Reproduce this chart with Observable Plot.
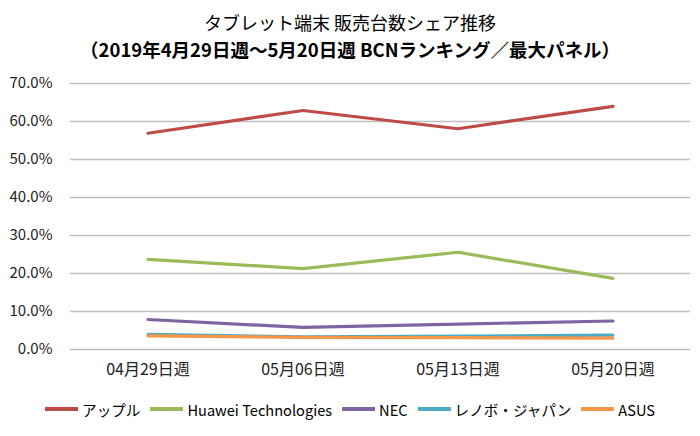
<!DOCTYPE html>
<html><head><meta charset="utf-8">
<script src="https://cdn.jsdelivr.net/npm/d3@7"></script>
<script src="https://cdn.jsdelivr.net/npm/@observablehq/plot@0.6"></script>
<style>
body{margin:0;background:#fff;font-family:"Noto Sans CJK JP","Noto Sans",sans-serif;}
#wrap{width:700px;}
.t1{height:30px;line-height:32px;text-align:center;font-size:18px;padding-top:6px;}
.t2{height:32px;line-height:26px;text-align:center;font-size:18.5px;font-weight:bold;}
#legend{display:flex;justify-content:center;align-items:center;gap:10px;font-size:14.6px;height:48px;}
.it{display:flex;align-items:center;gap:4px;}
.sw{width:33px;height:3.5px;display:inline-block;}
</style></head>
<body><div id="wrap">
<div class="t1">タブレット端末 販売台数シェア推移</div>
<div class="t2">（2019年4月29日週～5月20日週 BCNランキング／最大パネル）</div>
<div id="chart"></div>
<div id="legend"></div>
</div>
<script>
const weeks = ["04月29日週","05月06日週","05月13日週","05月20日週"];
const seriesNames = ["アップル","Huawei Technologies","NEC","レノボ・ジャパン","ASUS"];
const apple = [0.569, 0.629, 0.581, 0.640];
const huawei = [0.237, 0.213, 0.256, 0.187];
const nec = [0.079, 0.058, 0.067, 0.075];
const lenovo = [0.040, 0.033, 0.035, 0.038];
const asus = [0.036, 0.032, 0.031, 0.030];
const colors = ["#BE4B48","#9BBB59","#8064A2","#4BACC6","#F79646"];
const yTicks = [0,0.1,0.2,0.3,0.4,0.5,0.6,0.7];

const all = [apple, huawei, nec, lenovo, asus];
const rows = [];
all.forEach((vals, i) => vals.forEach((v, j) => rows.push({series: seriesNames[i], week: weeks[j], value: v})));

const chart = Plot.plot({
  width: 700, height: 317,
  marginTop: 15, marginBottom: 36, marginLeft: 70, marginRight: 10,
  style: {fontFamily: '"Noto Sans CJK JP","Noto Sans",sans-serif', fontSize: "15px", color: "#222"},
  x: {type: "band", domain: weeks, padding: 0, label: null},
  y: {domain: [0, 0.7], label: null},
  color: {domain: seriesNames, range: colors},
  marks: [
    Plot.ruleY(yTicks, {stroke: "#bfbfbf", strokeWidth: 1.3}),
    Plot.axisY({ticks: yTicks, tickFormat: d3.format(".1%"), tickSize: 0, tickPadding: 18, fontSize: 15, label: null}),
    Plot.axisX({tickSize: 0, tickPadding: 14, fontSize: 16, label: null}),
    Plot.line(rows, {x: "week", y: "value", z: "series", stroke: "series", strokeWidth: 3.2, strokeLinecap: "round"})
  ]
});
document.getElementById("chart").appendChild(chart);

const lg = document.getElementById("legend");
seriesNames.forEach((n, i) => {
  const it = document.createElement("div"); it.className = "it";
  const sw = document.createElement("span"); sw.className = "sw"; sw.style.background = colors[i];
  const tx = document.createElement("span"); tx.textContent = n;
  it.appendChild(sw); it.appendChild(tx); lg.appendChild(it);
});
</script>
</body></html>
